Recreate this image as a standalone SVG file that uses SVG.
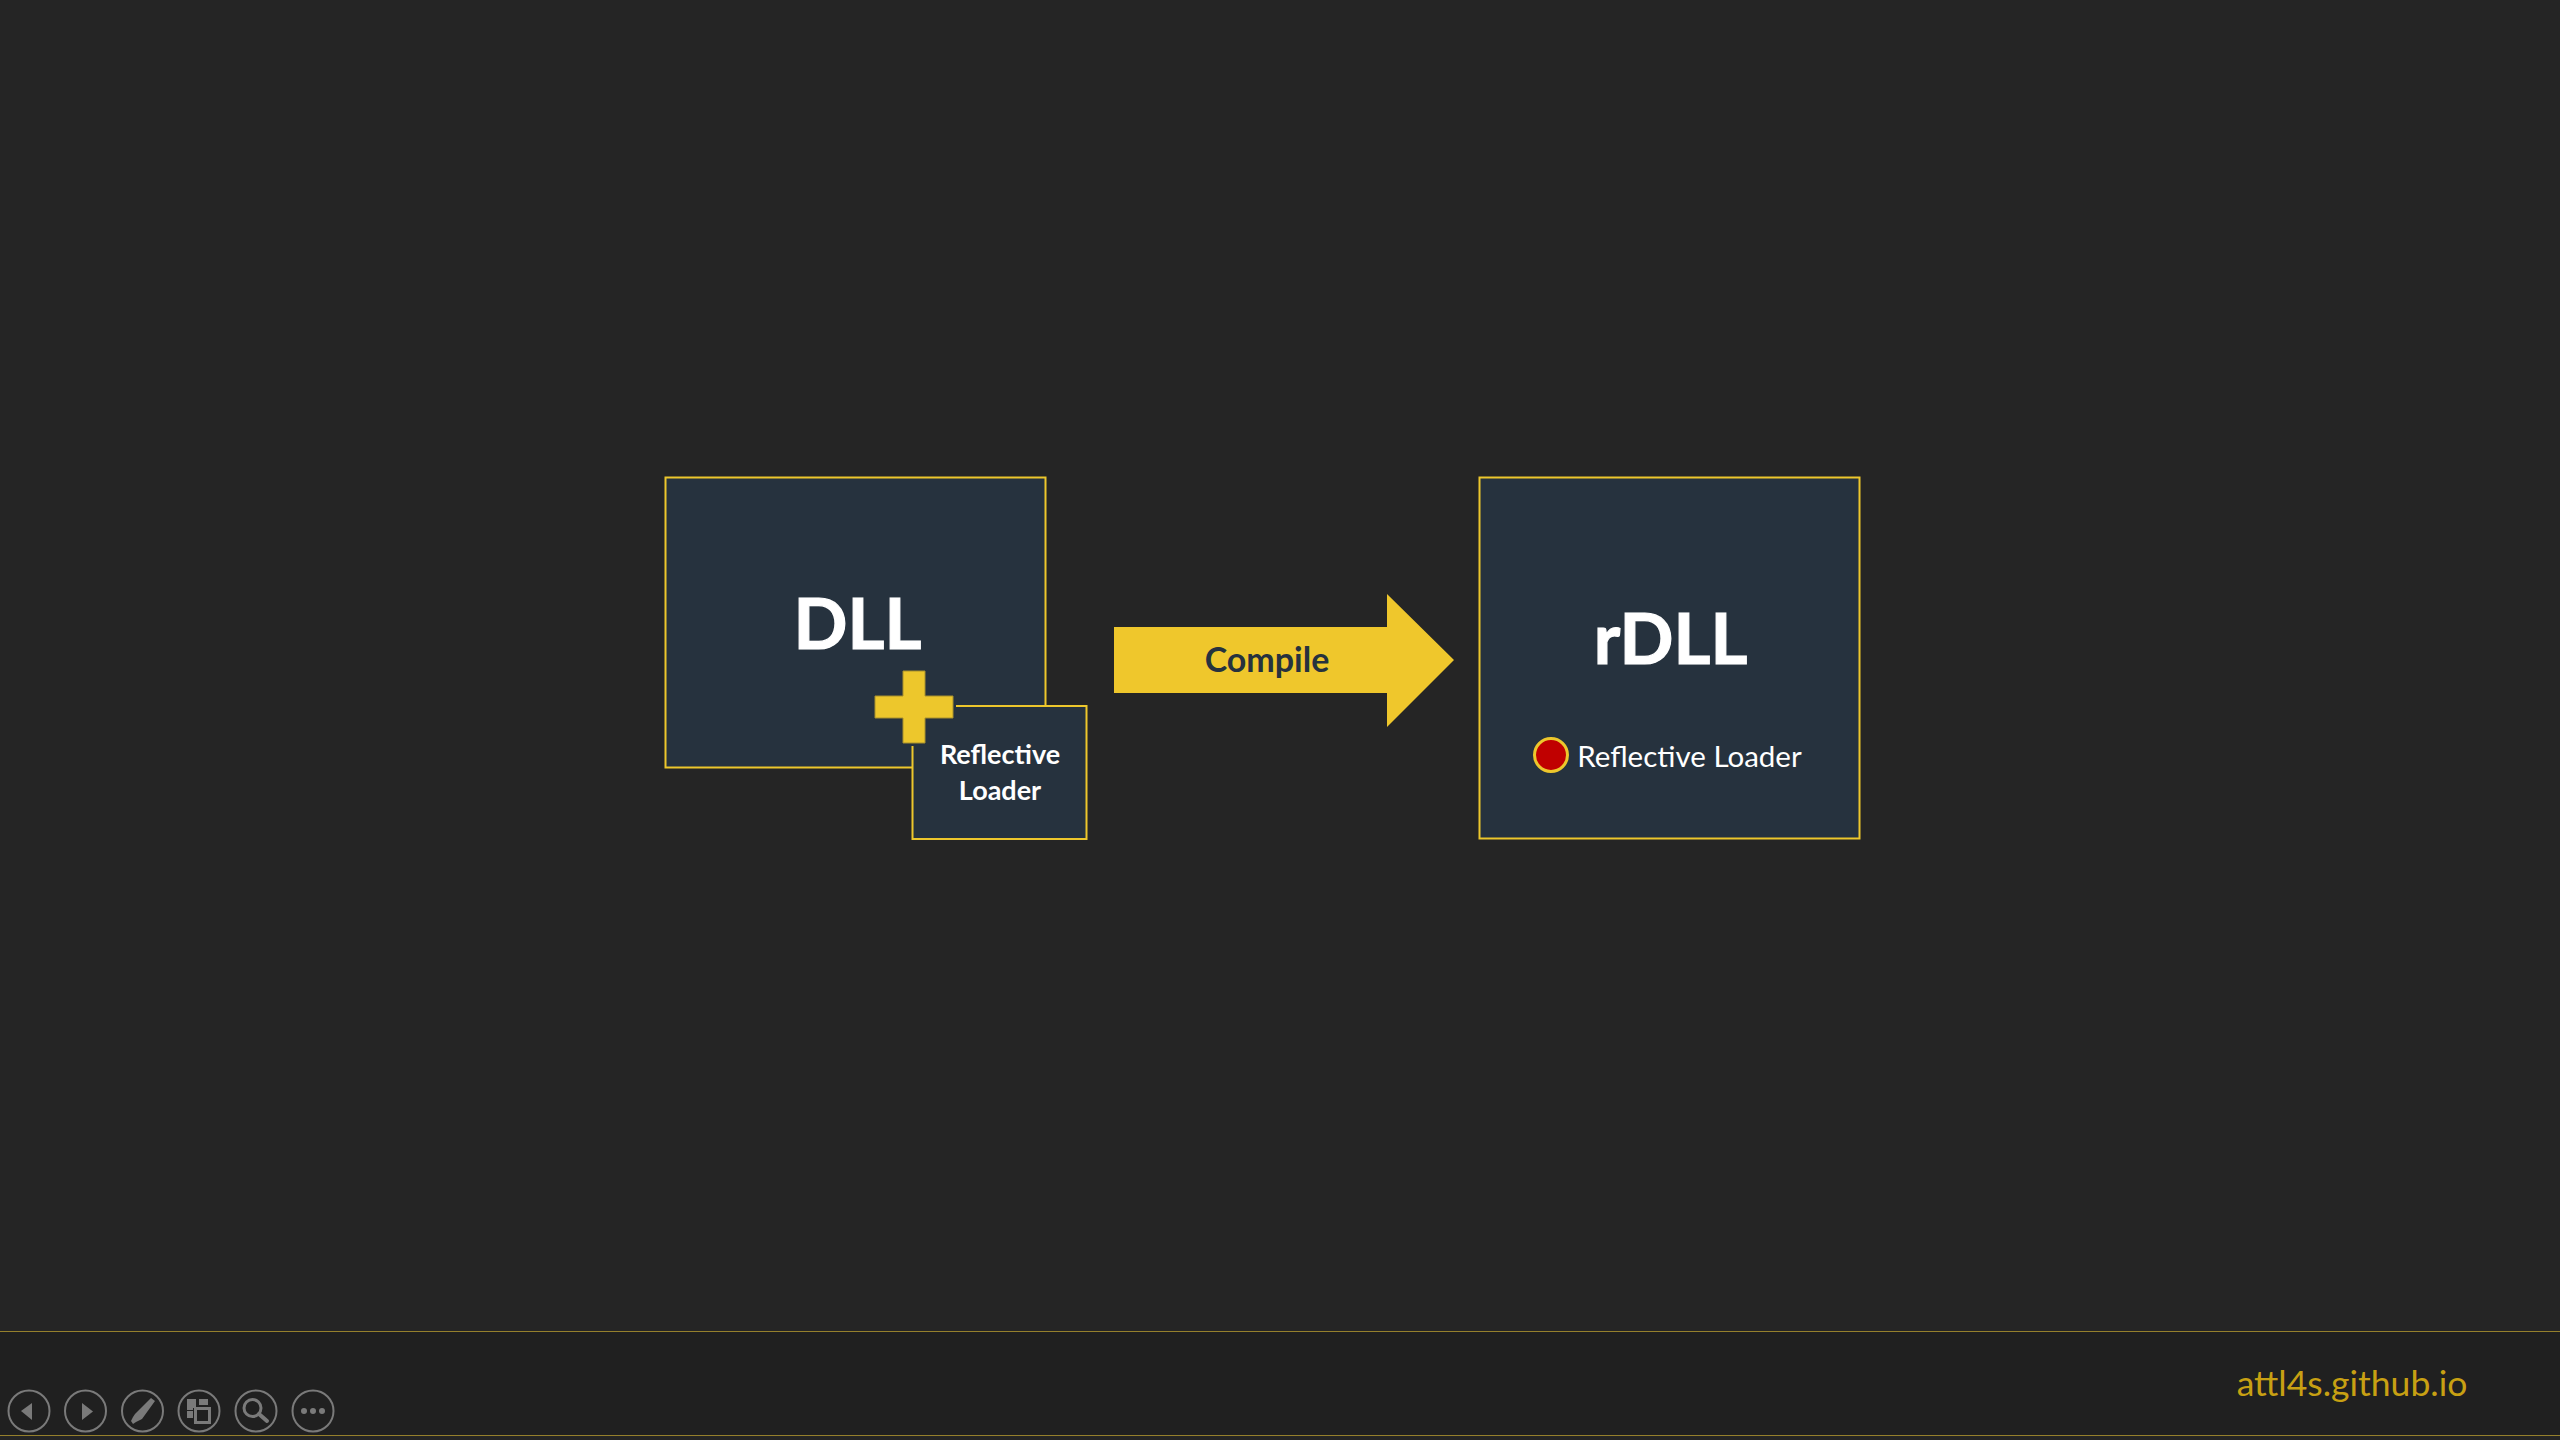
<svg xmlns="http://www.w3.org/2000/svg" width="2560" height="1440" viewBox="0 0 2560 1440">
<style>
.box{fill:#26323e;stroke:#edc72c;stroke-width:2}
text{font-family:"Lato","Open Sans","Liberation Sans",sans-serif;text-anchor:middle;fill:#fff}
.b{font-weight:700}
.ic{fill:none;stroke:#7a7a7a;stroke-width:2}
.if{fill:#7a7a7a}
.il{fill:none;stroke:#7a7a7a}
</style>
<rect width="2560" height="1440" fill="#252525"/>
<g id="footer">
<rect x="0" y="1331" width="2560" height="104" fill="#202020"/>
<path d="M0 1331.500H2560M0 1435.500H2560" stroke="#95802c" stroke-width="1" fill="none"/>
<text x="2352" y="1396" font-size="35.500" style="fill:#c8a013">attl4s.github.io</text>
</g>
<g id="dll"><rect class="box" x="665.500" y="477.500" width="380" height="290"/>
<text class="b" x="857.500" y="648.500" font-size="71" stroke="#fff" stroke-width="1.200">DLL</text></g>
<g id="loader"><rect class="box" x="912.500" y="706" width="174" height="133"/>
<text class="b" x="1000" y="764" font-size="27">Reflective</text>
<text class="b" x="1000" y="800" font-size="27">Loader</text></g>
<g id="plus"><path d="M903 671H925V696H953V718H925V743H903V718H875V696H903Z" fill="#edc72c" stroke="#26323e" stroke-width="6"/><path d="M903 671H925V696H953V718H925V743H903V718H875V696H903Z" fill="#edc72c" stroke="#a8902c" stroke-width="1"/></g>
<g id="connectors"><path id="compile-arrow" d="M1114 627H1387V594L1454 660L1387 727V693H1114Z" fill="#efc72c"/></g>
<g id="compile-label"><text class="b" x="1267" y="672" font-size="34" style="fill:#26323e">Compile</text></g>
<g id="rdll"><rect class="box" x="1479.500" y="477.500" width="380" height="361"/>
<text class="b" x="1670.500" y="664" font-size="71" stroke="#fff" stroke-width="1.200">rDLL</text>
<circle cx="1551" cy="755" r="16.500" fill="#c00000" stroke="#edc72c" stroke-width="3"/>
<text x="1689.500" y="766.500" font-size="29.500">Reflective Loader</text></g>
<g id="nav">
<g id="nav-prev"><circle class="ic" cx="29" cy="1411" r="20.500"/><path class="if" d="M21 1411L32 1403V1420Z"/></g>
<g id="nav-next"><circle class="ic" cx="85.500" cy="1411" r="20.500"/><path class="if" d="M82 1403L93 1411.500L82 1420Z"/></g>
<g id="nav-pen"><circle class="ic" cx="142.500" cy="1411" r="20.500"/><path class="if" d="M151 1398L155 1401L142 1419L136 1422L133 1424L131 1421L133 1417L135 1414Z"/></g>
<g id="nav-grid"><circle class="ic" cx="199" cy="1411" r="20.500"/><path class="if" d="M187 1399H196V1408H193V1410H187ZM199 1399H208V1405H199ZM187 1411H193V1418H187Z"/><rect x="195.500" y="1408.500" width="14" height="14" fill="none" stroke="#7a7a7a" stroke-width="3"/></g>
<g id="nav-zoom"><circle class="ic" cx="256" cy="1411" r="20.500"/><circle class="il" cx="252.500" cy="1408" r="8.500" stroke-width="3"/><path class="il" d="M259 1414L267 1421" stroke-width="4" stroke-linecap="round"/></g>
<g id="nav-more"><circle class="ic" cx="313" cy="1411" r="20.500"/><circle class="if" cx="304" cy="1411" r="3"/><circle class="if" cx="313" cy="1411" r="3"/><circle class="if" cx="322" cy="1411" r="3"/></g>
</g>
</svg>
